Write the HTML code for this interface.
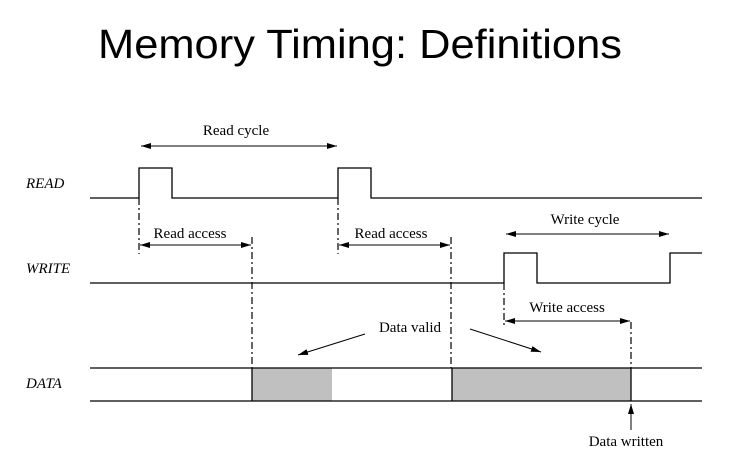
<!DOCTYPE html>
<html><head><style>
body{margin:0;width:742px;height:468px;background:#fff;overflow:hidden}
</style></head><body>
<svg width="742" height="468" xmlns="http://www.w3.org/2000/svg">
<defs>
<marker id="a" markerWidth="10" markerHeight="6" refX="10" refY="3" orient="auto-start-reverse" markerUnits="userSpaceOnUse"><path d="M0,0 L10,3 L0,6 z" fill="#000"/></marker>
</defs>
<text x="98" y="58" textLength="524" lengthAdjust="spacingAndGlyphs" font-family="Liberation Sans, sans-serif" font-size="41" fill="#000">Memory Timing: Definitions</text>
<g font-family="Liberation Serif, serif" font-size="15" fill="#000">
<text x="26" y="188" font-style="italic">READ</text>
<text x="26" y="273" font-style="italic">WRITE</text>
<text x="26" y="388" font-style="italic">DATA</text>
<text x="236" y="135" text-anchor="middle">Read cycle</text>
<text x="190" y="238" text-anchor="middle">Read access</text>
<text x="391" y="238" text-anchor="middle">Read access</text>
<text x="585" y="224" text-anchor="middle">Write cycle</text>
<text x="567" y="312" text-anchor="middle">Write access</text>
<text x="410" y="332" text-anchor="middle">Data valid</text>
<text x="626" y="446" text-anchor="middle">Data written</text>
</g>
<rect x="252" y="368" width="80" height="33" fill="#c0c0c0"/>
<rect x="452" y="368" width="179" height="33" fill="#c0c0c0"/>
<g stroke="#000" stroke-width="1.3" fill="none">
<polyline points="90,198 139,198 139,168 172,168 172,198 338,198 338,168 371,168 371,198 702,198"/>
<polyline points="90,283 504,283 504,253 537,253 537,283 670,283 670,253 702,253"/>
<line x1="90" y1="368" x2="702" y2="368"/>
<line x1="90" y1="401" x2="702" y2="401"/>
<line x1="252" y1="368" x2="252" y2="401"/>
<line x1="452" y1="368" x2="452" y2="401"/>
<line x1="631" y1="368" x2="631" y2="401"/>
</g>
<g stroke="#000" stroke-width="1.2" stroke-dasharray="7,3,2,3">
<line x1="139" y1="198" x2="139" y2="254"/>
<line x1="338" y1="198" x2="338" y2="254"/>
<line x1="252" y1="237" x2="252" y2="368"/>
<line x1="451" y1="237" x2="451" y2="368"/>
<line x1="504" y1="283" x2="504" y2="326"/>
<line x1="631" y1="322" x2="631" y2="368"/>
</g>
<g stroke="#000" stroke-width="1" marker-start="url(#a)" marker-end="url(#a)">
<line x1="141" y1="146" x2="337" y2="146"/>
<line x1="140" y1="245" x2="251" y2="245"/>
<line x1="339" y1="245" x2="450" y2="245"/>
<line x1="506" y1="234" x2="669" y2="234"/>
<line x1="505" y1="321" x2="630" y2="321"/>
</g>
<g stroke="#000" stroke-width="1" marker-end="url(#a)">
<line x1="365" y1="334" x2="298" y2="355"/>
<line x1="470" y1="329" x2="541" y2="352"/>
<line x1="631" y1="430" x2="631" y2="404"/>
</g>
</svg>
</body></html>
